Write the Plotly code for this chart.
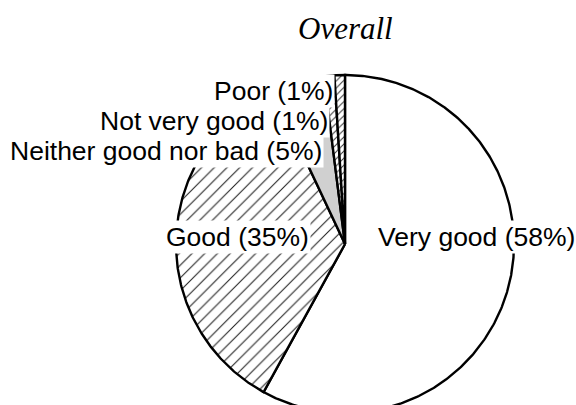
import numpy as np
import plotly.graph_objects as go

# Survey answers and their shares (percent)
categories = ["Very good", "Good", "Neither good nor bad", "Not very good", "Poor"]
percent = [58, 35, 5, 1, 1]

# Fill style of each wedge
fill_styles = [
    dict(shape="", bgcolor="white"),
    dict(shape="/", size=9, solidity=0.12, fgcolor="#222222", bgcolor="white"),
    dict(shape="", bgcolor="#d0d0d0"),
    dict(shape="/", size=5, solidity=0.2, fgcolor="#333333", bgcolor="white"),
    dict(shape="/", size=5, solidity=0.2, fgcolor="#333333", bgcolor="white"),
]

W, H = 576, 405
CX, CY, R = 345, 244, 169   # pie centre and radius, in pixel-like axis units

fig = go.Figure()

total = sum(percent)
start = 0.0
for name, val, style in zip(categories, percent, fill_styles):
    sweep = 360.0 * val / total
    theta = np.radians(np.linspace(start, start + sweep, max(int(sweep * 2), 4)))
    # clockwise from 12 o'clock; y axis points down
    xs = np.concatenate([[CX], CX + R * np.sin(theta), [CX]])
    ys = np.concatenate([[CY], CY - R * np.cos(theta), [CY]])
    kw = dict(fillcolor=style["bgcolor"])
    if style["shape"]:
        kw["fillpattern"] = dict(shape=style["shape"], size=style["size"],
                                 solidity=style["solidity"], fgcolor=style["fgcolor"],
                                 bgcolor=style["bgcolor"], fillmode="replace")
    fig.add_trace(go.Scatter(x=xs, y=ys, mode="lines", fill="toself",
                             line=dict(color="black", width=2.4),
                             name=name, hoverinfo="name", showlegend=False, **kw))
    start += sweep

labels = [f"{c} ({p}%)" for c, p in zip(categories, percent)]
# label anchor positions: (x, y, xanchor)
label_pos = [
    (376, 237, "left"),
    (311, 237, "right"),
    (324, 151, "right"),
    (330, 121, "right"),
    (335, 91, "right"),
]
label_font = dict(family="Liberation Sans, Arial, sans-serif", size=26.5, color="black")
for text, (lx, ly, anchor) in zip(labels, label_pos):
    fig.add_annotation(x=lx, y=ly, xref="x", yref="y", text=text, showarrow=False,
                       xanchor=anchor, yanchor="middle", font=label_font,
                       bgcolor="white", borderpad=1)

fig.add_annotation(x=CX, y=28, xref="x", yref="y", text="<i>Overall</i>",
                   showarrow=False, xanchor="center", yanchor="middle",
                   font=dict(family="Liberation Serif, serif", size=31, color="black"))

fig.update_xaxes(range=[0, W], visible=False, showgrid=False, zeroline=False)
fig.update_yaxes(range=[H, 0], visible=False, showgrid=False, zeroline=False)
fig.update_layout(width=W, height=H, autosize=False,
                  margin=dict(l=0, r=0, t=0, b=0, pad=0),
                  paper_bgcolor="white", plot_bgcolor="white")

fig.write_html("out.html")
